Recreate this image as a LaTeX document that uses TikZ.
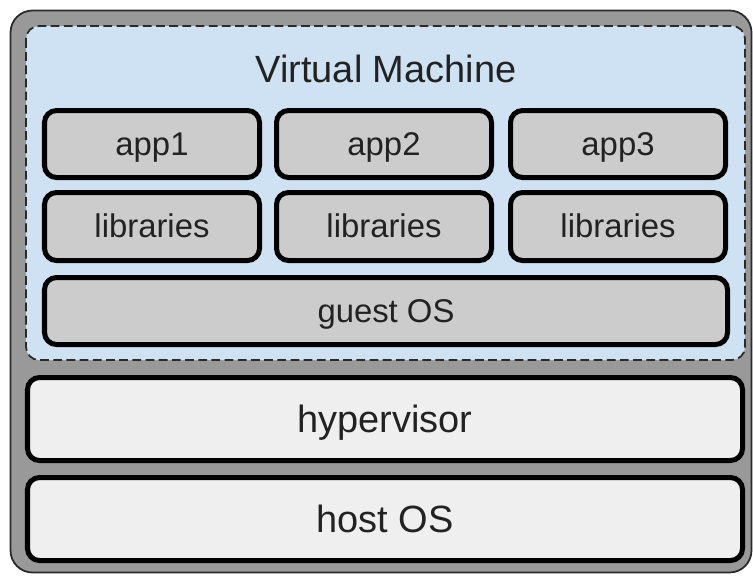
\documentclass[tikz,border=0pt]{standalone}
\usepackage{fontspec}
\setmainfont{Liberation Sans}
\definecolor{shellgray}{HTML}{999999}
\definecolor{edgegray}{HTML}{2A2A2A}
\definecolor{vmblue}{HTML}{CFE2F3}
\definecolor{appgray}{HTML}{CCCCCC}
\definecolor{hostgray}{HTML}{EFEFEF}
\definecolor{txtgray}{HTML}{222222}
\tikzset{
  vmframe/.style={draw=edgegray, fill=vmblue, line width=1pt, dash pattern=on 5pt off 2.5pt, rounded corners=0.26cm},
  appbox/.style={draw=black, fill=appgray, line width=2.85pt, rounded corners=0.24cm},
  hostbox/.style={draw=black, fill=hostgray, line width=2.85pt, rounded corners=0.24cm},
  smalltext/.style={anchor=base, text=txtgray, font=\fontsize{18.7pt}{22pt}\selectfont},
  bigtext/.style={anchor=base, text=txtgray, font=\fontsize{21.6pt}{26pt}\selectfont}
}
\begin{document}
\begin{tikzpicture}[x=0.02cm, y=-0.02cm]
  \useasboundingbox (0,0) rectangle (753,575);
  % outer shell
  \draw[draw=edgegray, fill=shellgray, line width=1pt, rounded corners=0.44cm] (10.5,10.5) rectangle (751.5,572.5);

  % virtual machine
  \draw[vmframe] (26,26) rectangle (745,360);
  \node[bigtext] (vmlabel) at (386,82) {Virtual Machine};

  \foreach \x/\n in {44.5/1, 276.5/2, 510.5/3} {
    \draw[appbox] (\x,110.5) rectangle ++(215,67);
    \node[smalltext] (app\n) at (\x+107.5,155) {app\n};
    \draw[appbox] (\x,192.5) rectangle ++(215,68);
    \node[smalltext] (lib\n) at (\x+107.5,237) {libraries};
  }

  \draw[appbox] (44.5,277.5) rectangle (727.5,344.5);
  \node[smalltext] (guestos) at (386,322) {guest OS};

  % hypervisor and host
  \draw[hostbox] (27.5,377.5) rectangle (742.5,460.5);
  \node[bigtext] (hypervisor) at (385,432) {hypervisor};
  \draw[hostbox] (27.5,477.5) rectangle (742.5,560.5);
  \node[bigtext] (hostos) at (385,532) {host OS};
\end{tikzpicture}
\end{document}
